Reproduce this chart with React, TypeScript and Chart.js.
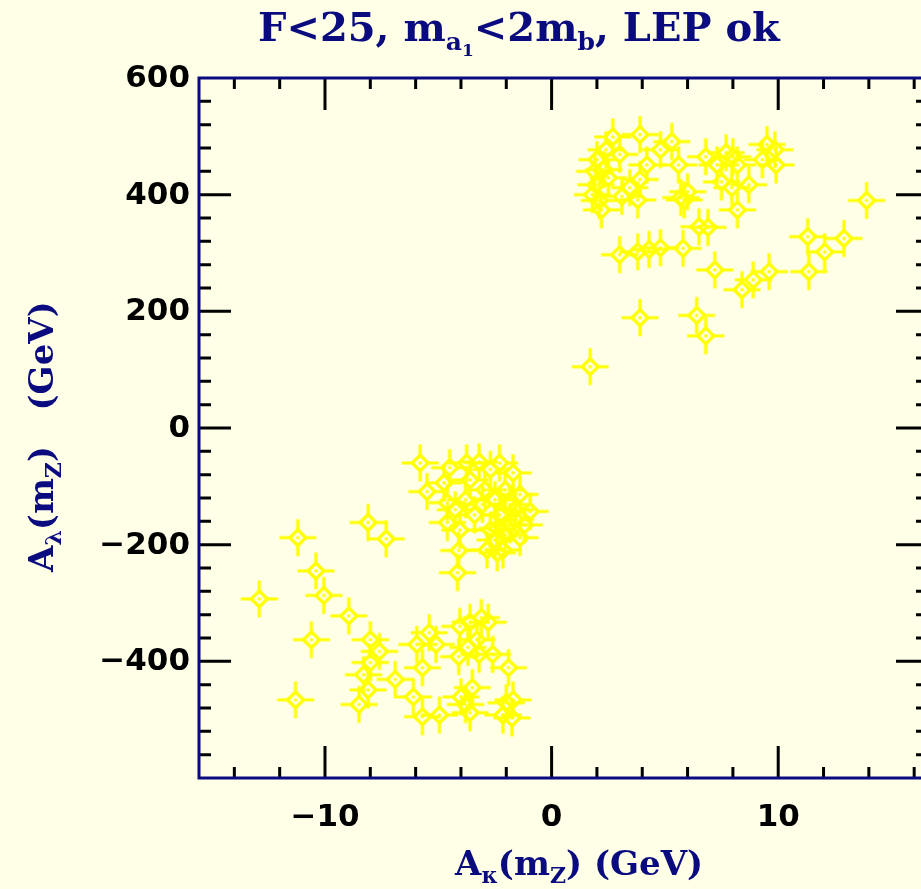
import React, { useEffect, useRef } from "react";
import { Chart, registerables } from "chart.js";
Chart.register(...registerables);

// A_kappa (GeV) and A_lambda (GeV)
const upperKappa = [2.7, 3.9, 5.3, 4.8, 2.4, 2.0, 3.0, 2.3, 1.95, 2.5, 1.8, 2.2, 3.1, 3.8, 3.45, 3.9, 4.2, 5.6, 5.7, 5.85, 6.0, 6.8, 8.0, 7.7, 8.2, 7.3, 7.5, 7.95, 8.7, 8.2, 9.5, 9.85, 9.3, 9.9, 1.9, 2.1,
  3.0, 3.8, 4.3, 4.8, 5.8, 6.5, 6.9, 7.2, 8.4, 8.9, 9.6, 11.3, 12.05, 11.35, 12.9, 13.9, 3.9, 6.4, 6.8, 1.7];
const upperLambda = [499, 503, 491, 477, 477, 460, 469, 443, 417, 429, 400, 374, 397, 391, 412, 426, 451, 451, 395, 391, 405, 465, 465, 472, 451, 451, 422, 412, 417, 374, 486, 477, 460, 451, 440, 390,
  297, 302, 306, 309, 308, 345, 344, 271, 237, 254, 268, 328, 302, 268, 325, 390, 189, 193, 158, 105];

const lowerKappa = [-12.9, -11.2, -10.4, -10.05, -8.95, -10.6, -11.3, -8.1, -7.3, -8.0, -7.6, -8.0, -8.3, -8.1, -8.5, -6.9, -5.95, -5.7, -6.1, -5.7,
  -5.4, -5.1, -4.95, -4.05, -3.6, -3.1, -2.8, -3.3, -3.7, -4.1, -3.2, -2.6, -1.9, -3.5, -4.0, -3.8, -3.6, -2.0, -1.7, -1.75, -2.15,
  -5.8, -4.5, -3.75, -3.2, -2.3, -1.7, -5.5, -4.75, -4.6, -4.6, -4.1, -4.15, -2.4, -2.85, -2.15, -3.6, -2.95, -3.8, -3.4, -2.5, -2.05, -1.4, -1.6, -0.95, -1.2, -1.85, -2.3, -2.7, -2.05, -1.4, -2.5, -1.85, -2.4, -1.6, -3.05, -2.7, -4.25, -4.05];
const lowerLambda = [-293, -188, -245, -287, -322, -363, -466, -162, -190, -363, -383, -402, -423, -449, -474, -431, -371, -411, -461, -495,
  -351, -371, -492, -340, -333, -325, -333, -363, -376, -392, -388, -388, -411, -445, -461, -474, -488, -471, -466, -497, -492,
  -60, -68, -60, -58, -60, -77, -109, -94, -128, -162, -210, -248, -214, -209, -209, -89, -106, -123, -149, -123, -106, -114, -140, -143, -166, -166, -149, -175, -183, -188, -192, -131, -172, -157, -131, -71, -140, -175];

const xMajor = [-10, 0, 10];
const xMajorLabels = ["\u221210", "0", "10"];
const yMajor = [600, 400, 200, 0, -200, -400];
const yMajorLabels = ["600", "400", "200", "0", "\u2212200", "\u2212400"];
const X_MIN = -15.56, X_MAX = 16.61, Y_MIN = -600, Y_MAX = 600;
const xMinorStep = 2, yMinorStep = 40;

type Seg = { t: string; l: number };
const titleSegs: Seg[] = [{ t: "F<25, m", l: 0 }, { t: "a", l: 1 }, { t: "1", l: 2 }, { t: "<2m", l: 0 }, { t: "b", l: 1 }, { t: ", LEP ok", l: 0 }];
const xTitleSegs: Seg[] = [{ t: "A", l: 0 }, { t: "\u03ba", l: 1 }, { t: "(m", l: 0 }, { t: "Z", l: 1 }, { t: ") (GeV)", l: 0 }];
const yTitleSegs: Seg[] = [{ t: "A", l: 0 }, { t: "\u03bb", l: 1 }, { t: "(m", l: 0 }, { t: "Z", l: 1 }, { t: ")   (GeV)", l: 0 }];

const BG = "rgb(255,255,232)";
const NAVY = "#0b0b80";
const W = 935, H = 889;

function drawRich(ctx: CanvasRenderingContext2D, segs: Seg[], x: number, y: number, rot: number, sizes: number[], offs: number[]) {
  ctx.save();
  ctx.translate(x, y);
  ctx.rotate(rot);
  ctx.fillStyle = NAVY;
  ctx.textBaseline = "alphabetic";
  ctx.textAlign = "left";
  let cx = 0;
  for (const s of segs) {
    ctx.font = `bold ${sizes[s.l]}px "DejaVu Serif"`;
    ctx.fillText(s.t, cx, offs[s.l]);
    cx += ctx.measureText(s.t).width;
  }
  ctx.restore();
}

function makeMarker(): HTMLCanvasElement {
  const c = document.createElement("canvas");
  c.width = 40; c.height = 40;
  const g = c.getContext("2d")!;
  const cx = 20, cy = 20, d = 8, s = 18.5;
  g.strokeStyle = "#ffff00";
  g.lineWidth = 3.2;
  g.beginPath();
  g.moveTo(cx, cy - d); g.lineTo(cx + d, cy); g.lineTo(cx, cy + d); g.lineTo(cx - d, cy); g.closePath();
  g.stroke();
  g.beginPath();
  g.moveTo(cx, cy - s); g.lineTo(cx, cy - d);
  g.moveTo(cx, cy + s); g.lineTo(cx, cy + d);
  g.moveTo(cx - s, cy); g.lineTo(cx - d, cy);
  g.moveTo(cx + s, cy); g.lineTo(cx + d, cy);
  g.stroke();
  g.fillStyle = "#ffff00";
  g.beginPath(); g.arc(cx, cy, 1.8, 0, Math.PI * 2); g.fill();
  return c;
}

const framePlugin = {
  id: "frame",
  beforeDraw(chart: any) {
    const ctx = chart.ctx;
    ctx.save();
    ctx.fillStyle = BG;
    ctx.fillRect(0, 0, chart.width, chart.height);
    ctx.restore();
  },
  afterDatasetsDraw(chart: any) {
    const ctx: CanvasRenderingContext2D = chart.ctx;
    const { left, right, top, bottom } = chart.chartArea;
    const xs = chart.scales.x, ys = chart.scales.y;
    ctx.save();
    ctx.strokeStyle = "#000";
    ctx.lineWidth = 3;
    ctx.beginPath();
    for (let v = Math.ceil(X_MIN / xMinorStep) * xMinorStep; v <= X_MAX; v += xMinorStep) {
      const p = xs.getPixelForValue(v);
      const len = xMajor.includes(v) ? 32 : 11;
      ctx.moveTo(p, bottom); ctx.lineTo(p, bottom - len);
      ctx.moveTo(p, top); ctx.lineTo(p, top + len);
    }
    for (let v = Y_MIN + yMinorStep; v < Y_MAX; v += yMinorStep) {
      const p = ys.getPixelForValue(v);
      const len = yMajor.includes(v) ? 32 : 12;
      ctx.moveTo(left, p); ctx.lineTo(left + len, p);
      ctx.moveTo(right, p); ctx.lineTo(right - len, p);
    }
    ctx.stroke();
    ctx.strokeStyle = NAVY;
    ctx.lineWidth = 3;
    ctx.strokeRect(left, top, right - left, bottom - top);
    ctx.fillStyle = "#000";
    ctx.font = `bold 31px "DejaVu Sans"`;
    ctx.textAlign = "center";
    ctx.textBaseline = "alphabetic";
    xMajor.forEach((v, i) => ctx.fillText(xMajorLabels[i], xs.getPixelForValue(v), 826));
    ctx.textAlign = "right";
    ctx.textBaseline = "middle";
    yMajor.forEach((v, i) => ctx.fillText(yMajorLabels[i], 190, ys.getPixelForValue(v) + 1));
    ctx.restore();
    drawRich(ctx, titleSegs, 258, 41, 0, [40, 25, 17], [0, 9, 15]);
    drawRich(ctx, xTitleSegs, 455, 875, 0, [34, 22, 15], [0, 8, 14]);
    drawRich(ctx, yTitleSegs, 53, 572, -Math.PI / 2, [34, 22, 15], [0, 8, 14]);
  },
};

export default function App() {
  const ref = useRef<HTMLCanvasElement>(null);
  useEffect(() => {
    const marker = makeMarker();
    const pts = [
      ...upperKappa.map((x, i) => ({ x, y: upperLambda[i] })),
      ...lowerKappa.map((x, i) => ({ x, y: lowerLambda[i] })),
    ];
    const chart = new Chart(ref.current!, {
      type: "scatter",
      data: {
        datasets: [{ data: pts, pointStyle: marker as any, pointRadius: 18, clip: false as any }],
      },
      options: {
        animation: false,
        responsive: false,
        devicePixelRatio: 1,
        events: [],
        layout: { autoPadding: false, padding: { left: 199, top: 78, right: W - 928, bottom: H - 778 } },
        plugins: { legend: { display: false }, tooltip: { enabled: false }, title: { display: false } },
        scales: {
          x: { type: "linear", min: X_MIN, max: X_MAX, display: false },
          y: { type: "linear", min: Y_MIN, max: Y_MAX, display: false },
        },
      },
      plugins: [framePlugin],
    });
    return () => chart.destroy();
  }, []);
  return (
    <div style={{ position: "fixed", left: 0, top: 0, width: 921, height: 889, overflow: "hidden", background: BG }}>
      <div style={{ position: "absolute", left: 0, top: 0, width: W, height: H }}>
        <canvas ref={ref} width={W} height={H} style={{ display: "block", width: W, height: H }} />
      </div>
    </div>
  );
}
